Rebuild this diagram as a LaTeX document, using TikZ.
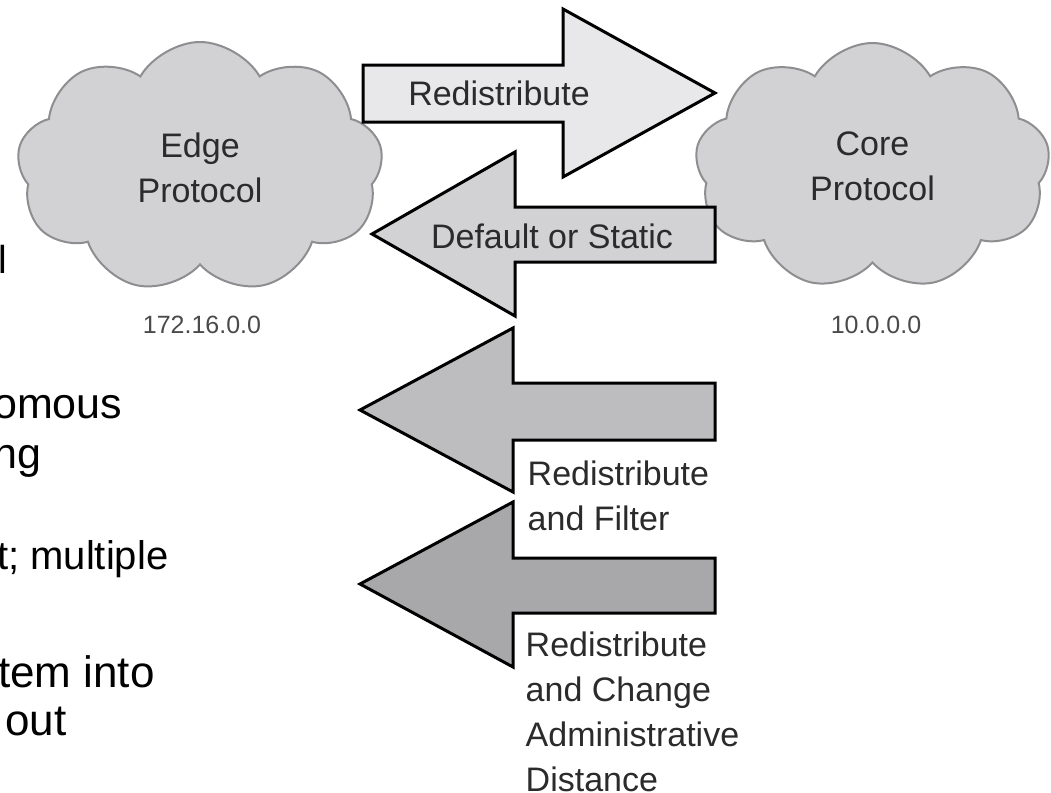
\documentclass[tikz,border=0pt]{standalone}
\usepackage{fontspec}
\setmainfont{Liberation Sans}
\usetikzlibrary{shapes.symbols}
\definecolor{cloudfill}{HTML}{D2D2D4}
\definecolor{cloudline}{HTML}{8E8E90}
\definecolor{txt}{HTML}{2B2B2B}
\definecolor{numtxt}{HTML}{4A4A4A}
\definecolor{fillA}{HTML}{E8E8EA}
\definecolor{fillB}{HTML}{D2D2D4}
\definecolor{fillC}{HTML}{BDBDBF}
\definecolor{fillD}{HTML}{A8A8AA}
\begin{document}
\begin{tikzpicture}[x=1pt,y=-1pt,
  cloudshape/.style={cloud, cloud puffs=9, cloud puff arc=120, draw=cloudline, fill=cloudfill, line width=2pt, inner sep=0pt, align=center, text=txt, font=\fontsize{34}{45}\selectfont},
  arrowbody/.style={draw=black, line width=3pt, line join=miter},
  lbl/.style={text=txt, inner sep=0pt, font=\fontsize{34}{45}\selectfont},
  numlbl/.style={text=numtxt, inner sep=0pt, font=\fontsize{25}{30}\selectfont},
  frag/.style={text=black, inner sep=0pt, anchor=base west}
]
\useasboundingbox (0,0) rectangle (1051,792);
\clip (0,0) rectangle (1051,792);

% left slide text fragments
\node[frag, font=\fontsize{39}{47}\selectfont] (fragA) at (-2,273) {l};
\node[frag, font=\fontsize{43}{50}\selectfont] (fragB) at (-7,418) {omous};
\node[frag, font=\fontsize{43}{50}\selectfont] (fragC) at (-7,468) {ng};
\node[frag, font=\fontsize{40}{46}\selectfont] (fragD) at (-3,569) {t; multiple};
\node[frag, font=\fontsize{44}{50}\selectfont] (fragE) at (-2,687) {tem into};
\node[frag, font=\fontsize{44}{50}\selectfont] (fragF) at (5,735) {out};

% clouds
\node[cloudshape, minimum width=366pt, minimum height=251pt] (edge) at (200,167.5) {Edge\\Protocol};
\node[cloudshape, minimum width=355pt, minimum height=247pt] (core) at (872.5,166.5) {Core\\Protocol};
\node[numlbl, anchor=base] (edgenet) at (202,333) {172.16.0.0};
\node[numlbl, anchor=base] (corenet) at (876,333) {10.0.0.0};

% arrows
\draw[arrowbody, fill=fillA] (363,65) -- (563,65) -- (563,9) -- (715,93) -- (563,177) -- (563,122) -- (363,122) -- cycle;
\draw[arrowbody, fill=fillB] (372,234) -- (515,152) -- (515,207) -- (715,207) -- (715,262) -- (515,262) -- (515,316) -- cycle;
\draw[arrowbody, fill=fillC] (360,410) -- (513,328) -- (513,383) -- (715,383) -- (715,440) -- (513,440) -- (513,492) -- cycle;
\draw[arrowbody, fill=fillD] (360,584) -- (513,502) -- (513,558) -- (715,558) -- (715,613) -- (513,613) -- (513,667) -- cycle;

% labels
\node[lbl, anchor=base] (redis) at (499,105) {Redistribute};
\node[lbl, anchor=base] (deflt) at (552,248) {Default or Static};
\node[lbl, anchor=north west, align=left] (filt) at (527.5,461) {Redistribute\\and Filter};
\node[lbl, anchor=north west, align=left] (chg) at (525.5,632) {Redistribute\\and Change\\Administrative\\Distance};
\end{tikzpicture}
\end{document}
